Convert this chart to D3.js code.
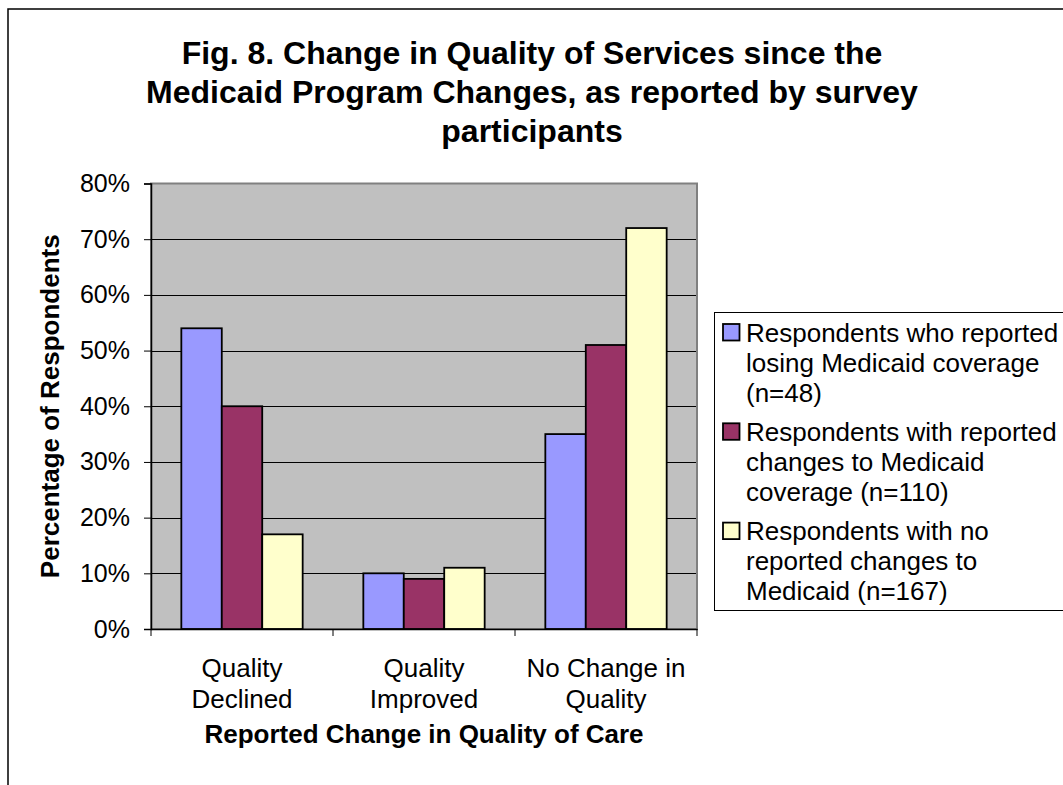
<!DOCTYPE html>
<html>
<head>
<meta charset="utf-8">
<script src="https://cdn.jsdelivr.net/npm/d3@7"></script>
<style>
  html, body { margin: 0; padding: 0; background: #fff; }
  svg { display: block; font-family: "Liberation Sans", Arial, sans-serif; }
</style>
</head>
<body>
<svg id="chart" width="1063" height="785"></svg>
<script>
// ---- data ----
const categories = [["Quality", "Declined"], ["Quality", "Improved"], ["No Change in", "Quality"]];
const seriesNames = [
  ["Respondents who reported", "losing Medicaid coverage", "(n=48)"],
  ["Respondents with reported", "changes to Medicaid", "coverage (n=110)"],
  ["Respondents with no", "reported changes to", "Medicaid (n=167)"]
];
const lostCoverage = [0.54, 0.10, 0.35];
const changedCoverage = [0.40, 0.09, 0.51];
const noChanges = [0.17, 0.11, 0.72];
const yTicks = [0, 0.1, 0.2, 0.3, 0.4, 0.5, 0.6, 0.7, 0.8];
const titleLines = ["Fig. 8. Change in Quality of Services since the", "Medicaid Program Changes, as reported by survey", "participants"];
const yAxisTitle = "Percentage of Respondents";
const xAxisTitle = "Reported Change in Quality of Care";
const colors = ["#9999FF", "#993366", "#FFFFCC"];

const seriesValues = [lostCoverage, changedCoverage, noChanges];
const catKeys = categories.map(c => c.join(" "));

// ---- layout ----
const plot = { left: 151, right: 697, top: 183.5, bottom: 629 };
const svg = d3.select("#chart");

// chart area border
svg.append("rect").attr("x", 8).attr("y", 9).attr("width", 1200).attr("height", 1000)
  .attr("fill", "#fff").attr("stroke", "#000").attr("stroke-width", 1.5);

const x0 = d3.scaleBand().domain(catKeys).range([plot.left, plot.right])
  .paddingInner(1/3).paddingOuter(1/6);
const x1 = d3.scaleBand().domain(d3.range(seriesValues.length)).range([0, x0.bandwidth()]).padding(0);
const y = d3.scaleLinear().domain([0, 0.8]).range([plot.bottom, plot.top]);

// plot background
svg.append("rect").attr("x", plot.left).attr("y", plot.top)
  .attr("width", plot.right - plot.left).attr("height", plot.bottom - plot.top)
  .attr("fill", "#C0C0C0");

// gridlines
svg.append("g").selectAll("line").data(yTicks.filter(t => t > 0 && t < 0.8)).join("line")
  .attr("x1", plot.left).attr("x2", plot.right)
  .attr("y1", d => Math.round(y(d)) + 0.5).attr("y2", d => Math.round(y(d)) + 0.5)
  .attr("stroke", "#000").attr("stroke-width", 1);

// plot frame (gray)
svg.append("rect").attr("x", plot.left).attr("y", plot.top)
  .attr("width", plot.right - plot.left).attr("height", plot.bottom - plot.top)
  .attr("fill", "none").attr("stroke", "#808080").attr("stroke-width", 2);

// bars
const groups = svg.append("g").selectAll("g").data(catKeys).join("g")
  .attr("transform", d => `translate(${x0(d)},0)`);
groups.selectAll("rect").data((d, i) => seriesValues.map((s, k) => ({ k, v: s[i] }))).join("rect")
  .attr("x", d => x1(d.k)).attr("width", x1.bandwidth())
  .attr("y", d => y(d.v)).attr("height", d => y(0) - y(d.v))
  .attr("fill", d => colors[d.k]).attr("stroke", "#000").attr("stroke-width", 1.8);

// y axis
const yAxis = d3.axisLeft(y).tickValues(yTicks).tickFormat(d3.format(".0%")).tickSize(7).tickPadding(14);
const yg = svg.append("g").attr("transform", `translate(${plot.left},0)`).call(yAxis);
yg.select(".domain").attr("stroke", "#000").attr("stroke-width", 1.5);
yg.selectAll(".tick line").attr("stroke", "#000");
yg.selectAll(".tick text").attr("font-size", 25).attr("fill", "#000")
  .attr("font-family", "'Liberation Sans', Arial, sans-serif");

// x axis
const xAxis = d3.axisBottom(x0).tickSize(0).tickFormat("");
const xg = svg.append("g").attr("transform", `translate(0,${plot.bottom})`).call(xAxis);
xg.select(".domain").attr("stroke", "#000").attr("stroke-width", 1.5);
// category boundary ticks
const step = x0.step();
const bounds = d3.range(catKeys.length + 1).map(i => plot.left + i * step);
svg.append("g").selectAll("line").data(bounds).join("line")
  .attr("x1", d => d).attr("x2", d => d)
  .attr("y1", plot.bottom).attr("y2", plot.bottom + 7)
  .attr("stroke", "#000").attr("stroke-width", 1);
// category labels
categories.forEach((c, i) => {
  const cx = x0(catKeys[i]) + x0.bandwidth() / 2;
  const t = svg.append("text").attr("text-anchor", "middle").attr("font-size", 26).attr("fill", "#000");
  c.forEach((line, j) => t.append("tspan").attr("x", cx).attr("y", 677 + j * 31).text(line));
});

// axis titles
svg.append("text").attr("x", (plot.left + plot.right) / 2).attr("y", 743)
  .attr("text-anchor", "middle").attr("font-size", 26).attr("font-weight", "bold").text(xAxisTitle);
svg.append("text").attr("transform", `translate(59,${(plot.top + plot.bottom) / 2}) rotate(-90)`)
  .attr("text-anchor", "middle").attr("font-size", 26).attr("font-weight", "bold").text(yAxisTitle);

// title
const title = svg.append("text").attr("text-anchor", "middle").attr("font-size", 32).attr("font-weight", "bold");
titleLines.forEach((l, i) => title.append("tspan").attr("x", 532).attr("y", 64 + i * 39).text(l));

// legend
const legend = svg.append("g");
legend.append("rect").attr("x", 714.5).attr("y", 312.5).attr("width", 400).attr("height", 298)
  .attr("fill", "#fff").attr("stroke", "#000").attr("stroke-width", 1);
seriesNames.forEach((lines, k) => {
  const base = 341.5 + k * 99.3;
  legend.append("rect").attr("x", 723).attr("y", base - 17.5).attr("width", 16.5).attr("height", 16.5)
    .attr("fill", colors[k]).attr("stroke", "#000").attr("stroke-width", 1.8);
  const t = legend.append("text").attr("font-size", 26).attr("fill", "#000");
  lines.forEach((l, j) => t.append("tspan").attr("x", 746).attr("y", base + j * 30).text(l));
});
</script>
</body>
</html>
